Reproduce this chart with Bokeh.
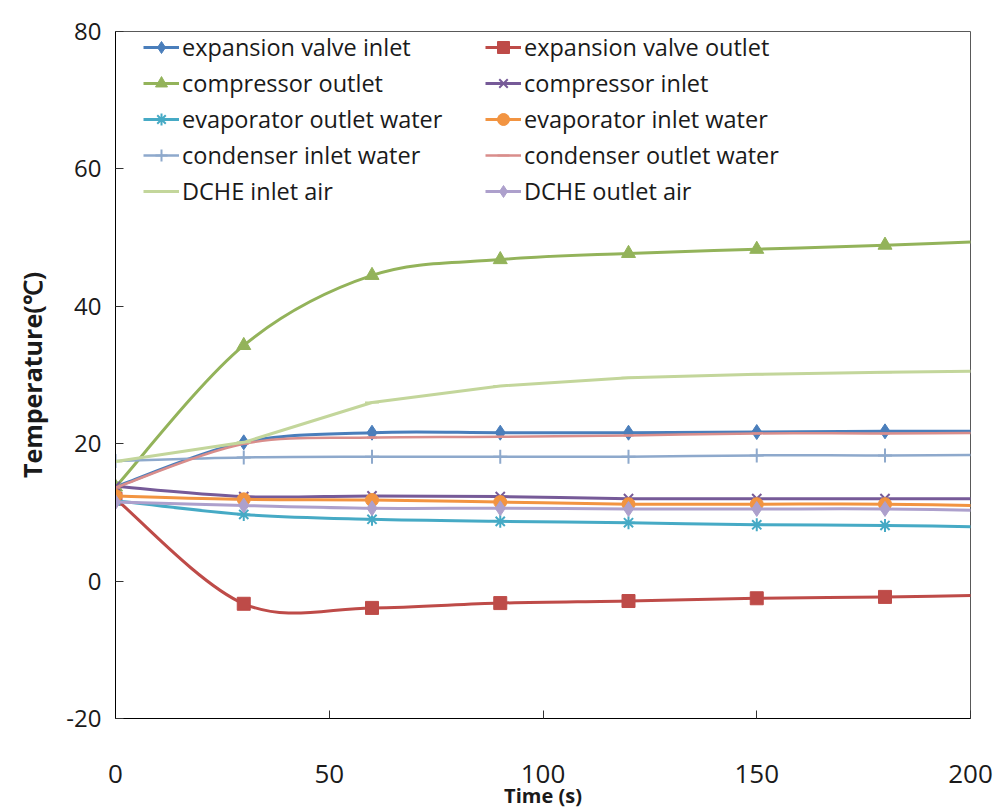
import numpy as np
from bokeh.plotting import figure
from bokeh.models import Legend, LegendItem, Range1d, FixedTicker
from bokeh.embed import file_html
from bokeh.resources import INLINE

# ---- data (time in s; last point lies beyond the 200 s axis limit) ----
time_s = [0, 30, 60, 90, 120, 150, 180, 210]

exp_valve_inlet = [13.7, 20.2, 21.6, 21.6, 21.6, 21.7, 21.8, 21.8]
exp_valve_outlet = [12.0, -3.3, -3.9, -3.2, -2.9, -2.5, -2.3, -2.0]
compressor_outlet = [13.7, 34.3, 44.5, 46.8, 47.7, 48.3, 48.9, 49.6]
compressor_inlet = [13.8, 12.3, 12.4, 12.3, 12.0, 12.0, 12.0, 12.0]
evap_outlet_water = [11.7, 9.7, 9.0, 8.7, 8.5, 8.2, 8.1, 7.8]
evap_inlet_water = [12.4, 11.9, 11.8, 11.5, 11.2, 11.2, 11.2, 10.9]
cond_inlet_water = [17.5, 18.0, 18.1, 18.1, 18.1, 18.3, 18.3, 18.4]
cond_outlet_water = [13.6, 20.0, 20.9, 21.0, 21.2, 21.5, 21.5, 21.6]
dche_inlet_air = [17.4, 20.2, 26.0, 28.4, 29.6, 30.1, 30.4, 30.6]
dche_outlet_air = [11.5, 11.0, 10.6, 10.6, 10.5, 10.5, 10.5, 10.2]

series_names = ["expansion valve inlet", "expansion valve outlet",
                "compressor outlet", "compressor inlet",
                "evaporator outlet water", "evaporator inlet water",
                "condenser inlet water", "condenser outlet water",
                "DCHE inlet air", "DCHE outlet air"]
series_values = [exp_valve_inlet, exp_valve_outlet, compressor_outlet,
                 compressor_inlet, evap_outlet_water, evap_inlet_water,
                 cond_inlet_water, cond_outlet_water, dche_inlet_air,
                 dche_outlet_air]

x_ticks = [0, 50, 100, 150, 200]
y_ticks = [-20, 0, 20, 40, 60, 80]
x_title = "Time (s)"
y_title = "Temperature(℃)"

# ---- styles ----
colors = ["#4A7EBB", "#BE4B48", "#93B35A", "#765A98", "#46AAC5",
          "#F29441", "#8EA9CC", "#D98D8B", "#C3D69B", "#ADA0CC"]
markers = ["diamond", "square", "triangle", "x", "asterisk",
           "circle", "cross", "dash", "dash", "diamond"]
marker_sizes = [15, 13, 14, 13, 13, 13, 14, 10, 14, 15]
smooth = [True, True, True, True, True, True, True, True, False, True]
line_widths = [3, 3, 3, 3, 3, 3, 2.5, 2.5, 3, 3]

FONT = "Open Sans"


def bezier_ctrl(xs, ys):
    x = np.asarray(xs, float)
    y = np.asarray(ys, float)
    n = len(x)
    xp = np.concatenate([[x[0]], x, [x[-1]]])
    yp = np.concatenate([[y[0]], y, [y[-1]]])
    cx0 = x[:-1] + (xp[2:n + 1] - xp[0:n - 1]) / 6.0
    cy0 = y[:-1] + (yp[2:n + 1] - yp[0:n - 1]) / 6.0
    cx1 = x[1:] - (xp[3:n + 2] - xp[1:n]) / 6.0
    cy1 = y[1:] - (yp[3:n + 2] - yp[1:n]) / 6.0
    return dict(x0=x[:-1], y0=y[:-1], x1=x[1:], y1=y[1:],
                cx0=cx0, cy0=cy0, cx1=cx1, cy1=cy1)


p = figure(width=998, height=812, output_backend="svg", toolbar_location=None,
           x_range=Range1d(0, 200), y_range=Range1d(-20, 80),
           min_border_left=115, min_border_right=28,
           min_border_top=31, min_border_bottom=94)
p.xgrid.visible = False
p.ygrid.visible = False
p.outline_line_color = "#595959"
p.outline_line_width = 1
p.background_fill_color = "white"
p.border_fill_color = "white"

for ax in (p.xaxis[0], p.yaxis[0]):
    ax.axis_line_color = "black"
    ax.axis_line_width = 1
    ax.major_tick_in = 8
    ax.major_tick_out = 0
    ax.major_tick_line_color = "#333333"
    ax.minor_tick_line_color = None
    ax.major_label_text_font = FONT
    ax.major_label_text_color = "#1a1a1a"
    ax.axis_label_text_font = FONT
    ax.axis_label_text_font_style = "bold"
    ax.axis_label_text_color = "#1a1a1a"
p.xaxis.ticker = FixedTicker(ticks=x_ticks)
p.yaxis.ticker = FixedTicker(ticks=y_ticks)
p.yaxis.major_label_overrides = {t: str(t) for t in y_ticks}
p.xaxis.major_label_text_font_size = "26px"
p.yaxis.major_label_text_font_size = "24px"
p.xaxis.major_label_standoff = 46
p.yaxis.major_label_standoff = 14
p.xaxis.axis_label = x_title
p.xaxis.axis_label_text_font_size = "20px"
p.xaxis.axis_label_standoff = -4
p.yaxis.axis_label = y_title
p.yaxis.axis_label_text_font_size = "25px"
p.yaxis.axis_label_standoff = 14

legend_items = []
for name, vals, col, mk, ms, sm, lw in zip(series_names, series_values, colors,
                                          markers, marker_sizes, smooth, line_widths):
    if sm:
        d = bezier_ctrl(time_s, vals)
        lr = p.bezier(x0=d["x0"], y0=d["y0"], x1=d["x1"], y1=d["y1"],
                      cx0=d["cx0"], cy0=d["cy0"], cx1=d["cx1"], cy1=d["cy1"],
                      line_color=col, line_width=lw)
    else:
        lr = p.line(time_s, vals, line_color=col, line_width=lw)
    sr = p.scatter(time_s, vals, marker=mk, size=ms, fill_color=col,
                   line_color=col,
                   line_width=2 if mk in ("x", "asterisk", "cross", "dash") else 1)
    legend_items.append(LegendItem(label=name, renderers=[lr, sr]))

for col_idx, xloc in ((0, 28), (1, 370)):
    lg = Legend(items=legend_items[col_idx::2], location=(xloc, 511),
                padding=0, margin=0, spacing=4, label_height=30, glyph_height=30,
                glyph_width=36, label_standoff=3,
                label_text_font=FONT, label_text_font_size="23.5px",
                label_text_color="#1a1a1a",
                background_fill_alpha=0, border_line_alpha=0)
    p.add_layout(lg)

open("out.html", "w").write(file_html(p, INLINE))
